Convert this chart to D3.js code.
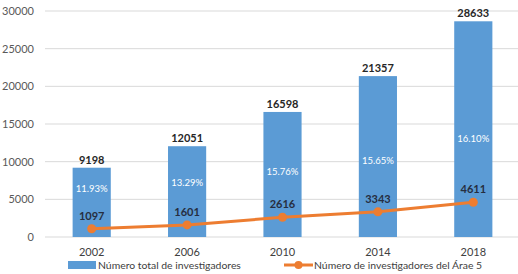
<!DOCTYPE html>
<html>
<head>
<meta charset="utf-8">
<script src="https://cdn.jsdelivr.net/npm/d3@7"></script>
<style>
  body { margin: 0; background: #fff; }
  svg { display: block; font-family: Lato, "Open Sans", sans-serif; }
</style>
</head>
<body>
<svg id="chart" width="518" height="274"></svg>
<script>
var years = ["2002", "2006", "2010", "2014", "2018"]
var totalInvestigadores = [9198, 12051, 16598, 21357, 28633]
var area5 = [1097, 1601, 2616, 3343, 4611]
var porcentajes = ["11.93%", "13.29%", "15.76%", "15.65%", "16.10%"]
// where the percentage labels sit, in axis units
var porcentajePos = [6400, 7150, 8650, 10100, 13000]
var yTicks = [0, 5000, 10000, 15000, 20000, 25000, 30000]
var legendLabels = ["Número total de investigadores", "Número de investigadores del Árae 5"]

var barColor = "#5b9bd5"
var lineColor = "#ed7d31"

const svg = d3.select("#chart")

let x = d3.scaleBand()
    .domain(years)
    .range([44, 521])
    .paddingInner(0.6)
    .paddingOuter(0.3)

let y = d3.scaleLinear()
    .domain([0, 30000])
    .range([237, 11])

// gridlines + y labels
svg.append("g")
    .selectAll("line")
    .data(yTicks)
    .join("line")
    .attr("x1", 45)
    .attr("x2", 518)
    .attr("y1", d => y(d))
    .attr("y2", d => y(d))
    .style("stroke", "#d9d9d9")
    .style("stroke-width", 1)

svg.append("g")
    .selectAll("text")
    .data(yTicks)
    .join("text")
    .attr("x", 34)
    .attr("y", d => y(d))
    .attr("dy", "0.35em")
    .attr("text-anchor", "end")
    .style("font-size", "11px")
    .style("fill", "#595959")
    .text(d => d)

// bars
svg.append("g")
    .selectAll("rect")
    .data(totalInvestigadores)
    .join("rect")
    .attr("x", (d, i) => x(years[i]))
    .attr("width", x.bandwidth())
    .attr("y", d => y(d))
    .attr("height", d => y(0) - y(d))
    .style("fill", barColor)

svg.append("g")
    .selectAll("text")
    .data(totalInvestigadores)
    .join("text")
    .attr("x", (d, i) => x(years[i]) + x.bandwidth() / 2)
    .attr("y", d => y(d) - 4)
    .attr("text-anchor", "middle")
    .style("font-size", "11px")
    .style("font-weight", "bold")
    .style("fill", "#262626")
    .text(d => d)

svg.append("g")
    .selectAll("text")
    .data(porcentajes)
    .join("text")
    .attr("x", (d, i) => x(years[i]) + x.bandwidth() / 2)
    .attr("y", (d, i) => y(porcentajePos[i]))
    .attr("dy", "0.35em")
    .attr("text-anchor", "middle")
    .style("font-size", "9.5px")
    .style("fill", "#ffffff")
    .text(d => d)

// x labels
svg.append("g")
    .selectAll("text")
    .data(years)
    .join("text")
    .attr("x", d => x(d) + x.bandwidth() / 2)
    .attr("y", 252)
    .attr("dy", "0.35em")
    .attr("text-anchor", "middle")
    .style("font-size", "11px")
    .style("fill", "#404040")
    .text(d => d)

// line series
let cx = (d, i) => x(years[i]) + x.bandwidth() / 2
let line = d3.line()
    .x(cx)
    .y(d => y(d))

svg.append("path")
    .datum(area5)
    .attr("d", line)
    .style("fill", "none")
    .style("stroke", lineColor)
    .style("stroke-width", 3)

svg.append("g")
    .selectAll("circle")
    .data(area5)
    .join("circle")
    .attr("cx", cx)
    .attr("cy", d => y(d))
    .attr("r", 4.5)
    .style("fill", lineColor)

svg.append("g")
    .selectAll("text")
    .data(area5)
    .join("text")
    .attr("x", cx)
    .attr("y", d => y(d) - 9)
    .attr("text-anchor", "middle")
    .style("font-size", "11px")
    .style("font-weight", "bold")
    .style("fill", "#262e40")
    .text(d => d)

// legend
let lg = svg.append("g")
lg.append("rect")
    .attr("x", 68).attr("y", 261)
    .attr("width", 28).attr("height", 8)
    .style("fill", barColor)
lg.append("text")
    .attr("x", 98).attr("y", 265)
    .attr("dy", "0.35em")
    .style("font-size", "10.4px")
    .style("fill", "#404040")
    .text(legendLabels[0])
lg.append("line")
    .attr("x1", 284).attr("x2", 313)
    .attr("y1", 265).attr("y2", 265)
    .style("stroke", lineColor)
    .style("stroke-width", 3)
lg.append("circle")
    .attr("cx", 298.5).attr("cy", 265).attr("r", 4)
    .style("fill", lineColor)
lg.append("text")
    .attr("x", 314).attr("y", 265)
    .attr("dy", "0.35em")
    .style("font-size", "10.4px")
    .style("fill", "#404040")
    .text(legendLabels[1])
</script>
</body>
</html>
